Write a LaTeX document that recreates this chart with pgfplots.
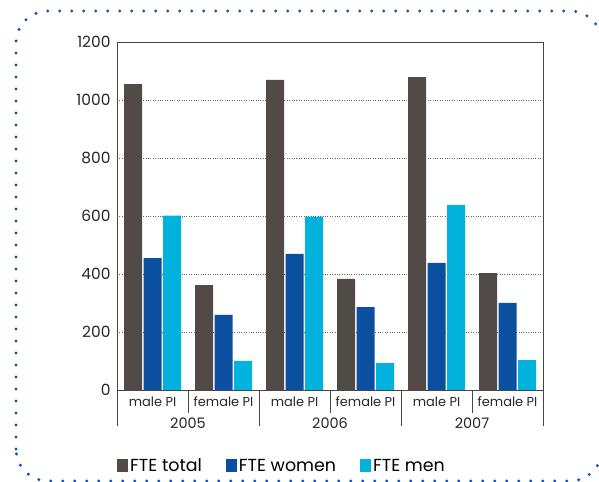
\documentclass[border=0pt]{standalone}
\usepackage{pgfplots}
\pgfplotsset{compat=1.18}
\usepackage{fontspec}
\setmainfont{Poppins}
\definecolor{ctot}{RGB}{82,74,71}
\definecolor{cwom}{RGB}{11,79,161}
\definecolor{cmen}{RGB}{0,178,220}
\definecolor{dotblue}{RGB}{20,80,170}
\definecolor{axgray}{RGB}{70,70,70}
\begin{document}
\begin{tikzpicture}[x=1bp,y=1bp]
\path[use as bounding box] (0,0) rectangle (599,482);
\begin{scope}
\clip (0,0) rectangle (599,482);
\draw[dotblue, line width=3.3bp, line cap=round, dash pattern=on 0bp off 12bp, rounded corners=32bp] (16,1) rectangle (602,471);
\end{scope}
\begin{axis}[
  at={(117bp,92bp)}, anchor=south west,
  scale only axis, width=426bp, height=348bp,
  ybar=1.5bp, bar width=18bp,
  xmin=-0.5, xmax=5.5, ymin=0, ymax=1200,
  ytick={0,200,...,1200},
  xtick={0,...,5},
  xticklabels={male PI, female PI, male PI, female PI, male PI, female PI},
  major tick length=0pt,
  ymajorgrids, grid style={dotted, line width=0.8bp, black!60},
  axis line style={axgray, line width=0.8bp},
  /pgf/number format/assume math mode=true,
  /pgf/number format/1000 sep={},
  yticklabel style={font=\fontsize{15.5}{17}\selectfont, text=black!85, xshift=-3bp},
  xticklabel style={font=\fontsize{13}{15}\selectfont, text=black!85, yshift=-3bp},
  clip=false,
  legend style={at={(0,0)}, anchor=west, yshift=-76bp, draw=none, inner sep=0pt,
    font=\fontsize{17.5}{20}\selectfont, legend columns=3,
    /tikz/every even column/.append style={column sep=22bp}},
  legend cell align=left,
]
\addplot[fill=ctot, draw=none, legend image code/.code={\fill[ctot] (0bp,-6.5bp) rectangle (11bp,6.5bp);}]
  coordinates {(0,1055) (1,362) (2,1069) (3,383) (4,1079) (5,403)};
\addplot[fill=cwom, draw=none, legend image code/.code={\fill[cwom] (0bp,-6.5bp) rectangle (11bp,6.5bp);}]
  coordinates {(0,455) (1,259) (2,469) (3,286) (4,438) (5,300)};
\addplot[fill=cmen, draw=none, legend image code/.code={\fill[cmen] (0bp,-6.5bp) rectangle (11bp,6.5bp);}]
  coordinates {(0,601) (1,100) (2,598) (3,93) (4,638) (5,103)};
\legend{FTE total, FTE women, FTE men}
\draw[axgray, line width=0.8bp] (axis cs:0.5,0) -- ([yshift=-23bp]axis cs:0.5,0);
\draw[axgray, line width=0.8bp] (axis cs:2.5,0) -- ([yshift=-23bp]axis cs:2.5,0);
\draw[axgray, line width=0.8bp] (axis cs:4.5,0) -- ([yshift=-23bp]axis cs:4.5,0);
\draw[axgray, line width=0.8bp] (axis cs:-0.5,0) -- ([yshift=-36bp]axis cs:-0.5,0);
\draw[axgray, line width=0.8bp] (axis cs:1.5,0) -- ([yshift=-36bp]axis cs:1.5,0);
\draw[axgray, line width=0.8bp] (axis cs:3.5,0) -- ([yshift=-36bp]axis cs:3.5,0);
\draw[axgray, line width=0.8bp] (axis cs:5.5,0) -- ([yshift=-36bp]axis cs:5.5,0);
\node[font=\fontsize{14.5}{16}\selectfont, text=black!85] at ([yshift=-33bp]axis cs:0.5,0) {2005};
\node[font=\fontsize{14.5}{16}\selectfont, text=black!85] at ([yshift=-33bp]axis cs:2.5,0) {2006};
\node[font=\fontsize{14.5}{16}\selectfont, text=black!85] at ([yshift=-33bp]axis cs:4.5,0) {2007};
\end{axis}
\end{tikzpicture}
\end{document}
